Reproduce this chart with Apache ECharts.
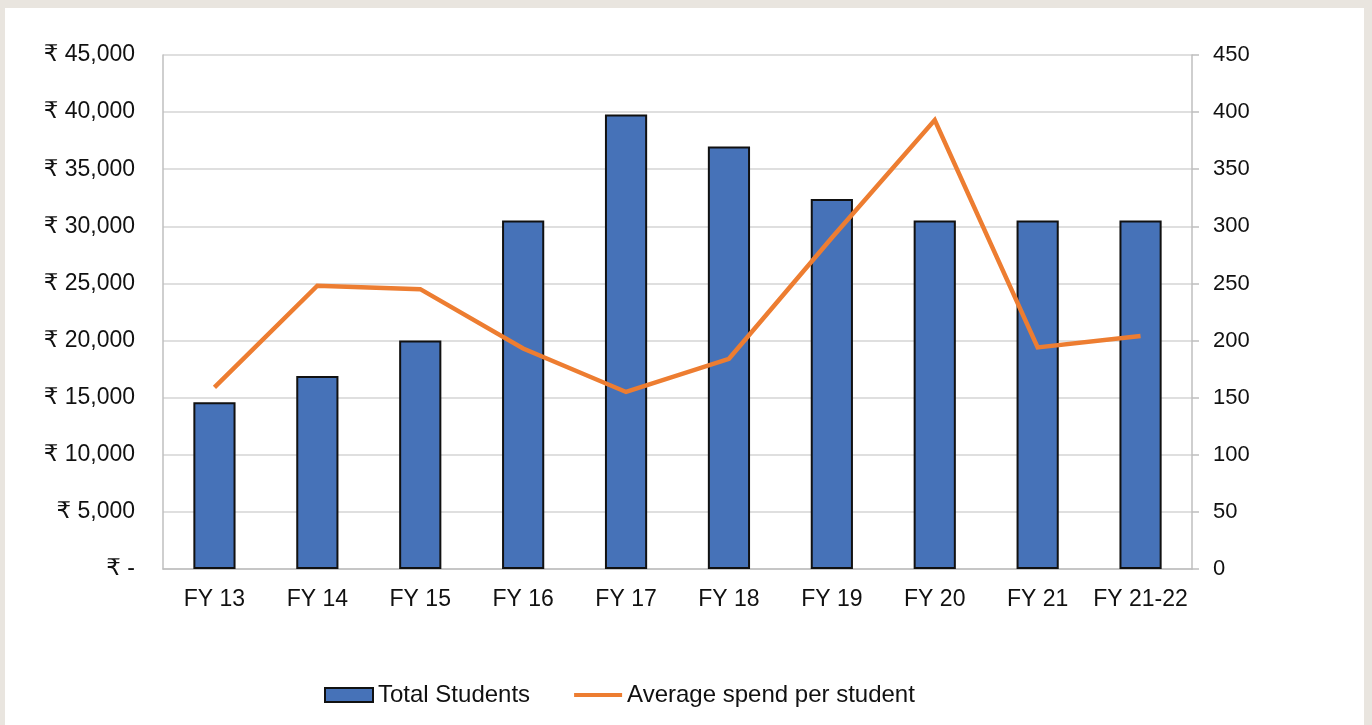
<!DOCTYPE html>
<html>
<head>
<meta charset="utf-8">
<script src="https://cdn.jsdelivr.net/npm/echarts@6/dist/echarts.min.js"></script>
<style>
html,body{margin:0;padding:0;background:#e9e5df;width:1372px;height:725px;overflow:hidden;}
#chart{position:absolute;left:5px;top:8px;width:1359px;height:717px;background:#ffffff;}
</style>
</head>
<body>
<div id="chart"></div>
<script>
const categories = ['FY 13','FY 14','FY 15','FY 16','FY 17','FY 18','FY 19','FY 20','FY 21','FY 21-22'];
const totalStudents = [14600,16900,20000,30500,39800,37000,32400,30500,30500,30500];
const avgSpend = [159,248,245,193,155,184,290,393,194,204];
const leftTicks = {min:0, max:45000, interval:5000};
const rightTicks = {min:0, max:450, interval:50};

const chart = echarts.init(document.getElementById('chart'));
const font = 'Liberation Sans, Arial, DejaVu Sans, sans-serif';
chart.setOption({
  animation:false,
  grid:{left:158, right:172, top:47, bottom:156, containLabel:false},
  legend:{
    top:670, left:314,
    itemGap:44, itemWidth:48, itemHeight:14,
    textStyle:{fontFamily:font, fontSize:24, color:'#111111'},
    data:[
      {name:'Total Students', icon:'rect', itemStyle:{color:'#4672b8', borderColor:'#111111', borderWidth:2}},
      {name:'Average spend per student', icon:'path://M0,0 H48 V4 H0 Z', itemStyle:{color:'#ed7d31', borderWidth:0}}
    ]
  },
  xAxis:{
    type:'category', data:categories,
    axisLine:{lineStyle:{color:'#bfbfbf', width:1.5}},
    axisTick:{show:false},
    axisLabel:{fontFamily:font, fontSize:23, color:'#111111', margin:19, interval:0},
    splitLine:{show:false}
  },
  yAxis:[
    {
      type:'value', min:leftTicks.min, max:leftTicks.max, interval:leftTicks.interval,
      position:'left',
      axisLine:{show:true, lineStyle:{color:'#bfbfbf', width:1.5}},
      axisTick:{show:false},
      axisLabel:{fontFamily:font, fontSize:23, color:'#111111', margin:28,
        formatter:v => v === 0 ? '₹ -' : '₹ ' + v.toLocaleString('en-US')},
      splitLine:{show:true, lineStyle:{color:'#d4d4d4', width:1.5}}
    },
    {
      type:'value', min:rightTicks.min, max:rightTicks.max, interval:rightTicks.interval,
      position:'right',
      axisLine:{show:true, lineStyle:{color:'#bfbfbf', width:1.5}},
      axisTick:{show:true, inside:false, length:7, lineStyle:{color:'#bfbfbf', width:1.5}},
      axisLabel:{fontFamily:font, fontSize:22, color:'#111111', margin:21},
      splitLine:{show:false}
    }
  ],
  series:[
    {
      name:'Total Students', type:'bar', yAxisIndex:0, data:totalStudents,
      barWidth:'41%',
      itemStyle:{color:'#4672b8', borderColor:'#111111', borderWidth:2}
    },
    {
      name:'Average spend per student', type:'line', yAxisIndex:1, data:avgSpend,
      symbol:'none',
      lineStyle:{color:'#ed7d31', width:4.5, join:'miter'},
      itemStyle:{color:'#ed7d31'}
    }
  ]
});
</script>
</body>
</html>
